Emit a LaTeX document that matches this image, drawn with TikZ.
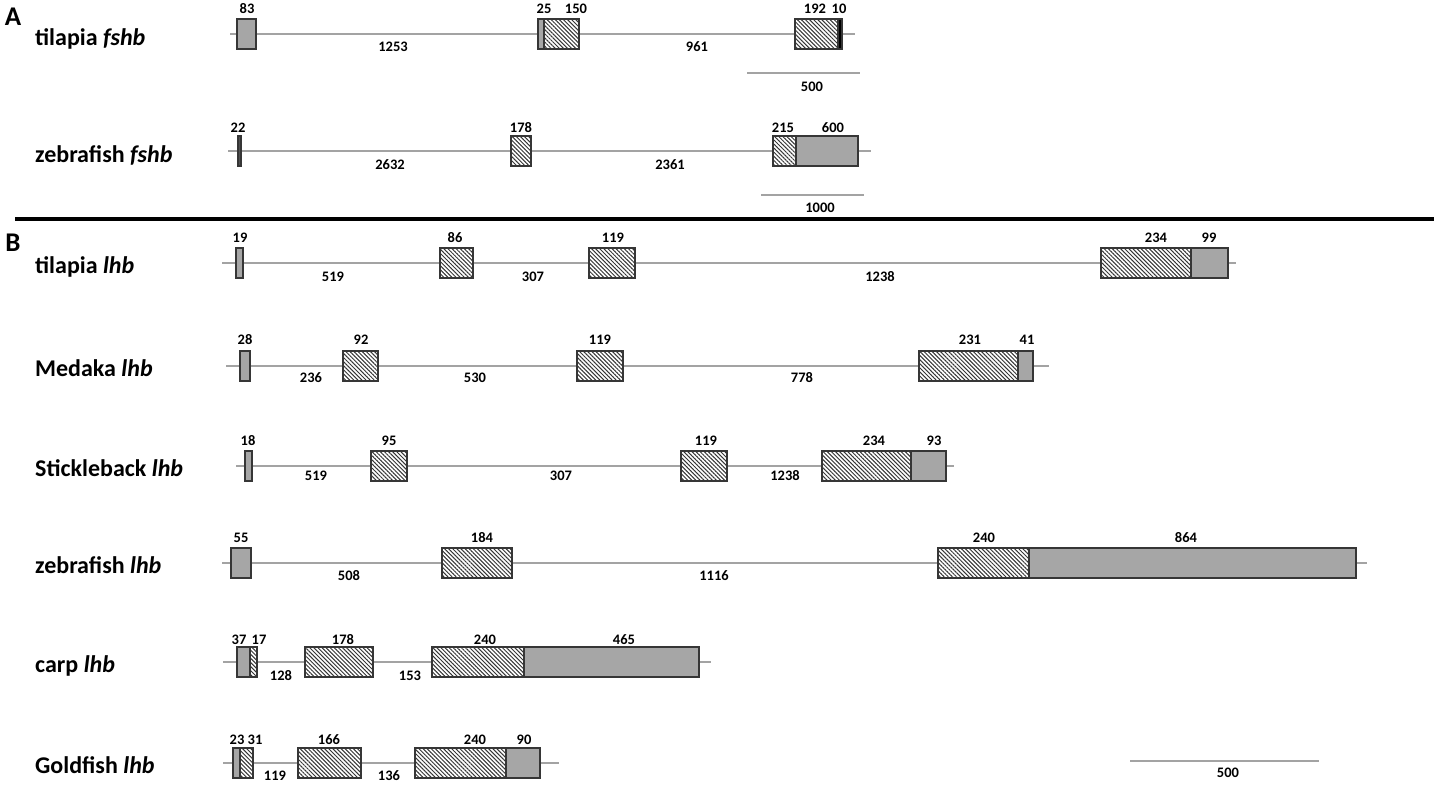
\documentclass[tikz,border=0pt]{standalone}
\usepackage{fontspec}
\setmainfont{Carlito}
\usepackage{tikz}
\usetikzlibrary{patterns.meta}

\definecolor{exongray}{HTML}{A6A6A6}
\definecolor{edgegray}{HTML}{363636}
\definecolor{introngray}{HTML}{A3A3A3}
\definecolor{darkbar}{HTML}{505050}

\tikzset{
    intron/.style={draw=introngray, line width=1.5pt},
    utr/.style={draw=edgegray, fill=exongray, line width=1.2pt},
    cds/.style={draw=edgegray, line width=1.2pt, preaction={fill=white},
        pattern={Lines[angle=-45,distance=2.9pt,line width=1pt]}, pattern color=edgegray},
    num/.style={font=\fontsize{14.5}{17}\selectfont\bfseries, inner sep=0pt},
    gene/.style={font=\fontsize{24}{28}\selectfont\bfseries, anchor=base west, inner sep=0pt},
    panel/.style={font=\fontsize{27}{30}\selectfont\bfseries, inner sep=0pt}
}

\begin{document}
\begin{tikzpicture}[x=1pt,y=-1pt]
    \useasboundingbox (0,0) rectangle (1439,785);

    \node[panel] (pA) at (13,17) {A};
    \node[panel] (pB) at (13,243) {B};
    \draw[line width=4pt] (15,219) -- (1434,219);

    % tilapia fshb
    \begin{scope}[shift={(0,34)}]
        \node[gene] (tfshb) at (35,11) {tilapia \textit{fshb}};
        \draw[intron] (230,0) -- (855,0);
        \foreach \a/\b in {237/256,538/544} \draw[utr] (\a,-15) rectangle (\b,15);
        \foreach \a/\b in {544/579,795/838} \draw[cds] (\a,-15) rectangle (\b,15);
        \draw[utr, fill=black] (838,-15) rectangle (842,15);
        \foreach \x/\t [count=\i] in {247/83,544/25,576/150,815/192,839/10}
            \node[num] (tfshb-e\i) at (\x,-25) {\t};
        \foreach \x/\t [count=\i] in {393/1253,697/961}
            \node[num] (tfshb-i\i) at (\x,13) {\t};
    \end{scope}
    \draw[intron] (747,73) -- (860,73);
    \node[num] (bar1) at (812,87) {500};

    % zebrafish fshb
    \begin{scope}[shift={(0,151)}]
        \node[gene] (zfshb) at (35,11) {zebrafish \textit{fshb}};
        \draw[intron] (228,0) -- (871,0);
        \draw[utr, fill=darkbar] (238,-15) rectangle (241,15);
        \foreach \a/\b in {511/531,773/796} \draw[cds] (\a,-15) rectangle (\b,15);
        \draw[utr] (796,-15) rectangle (858,15);
        \foreach \x/\t [count=\i] in {238/22,521/178,783/215,833/600}
            \node[num] (zfshb-e\i) at (\x,-23) {\t};
        \foreach \x/\t [count=\i] in {390/2632,670/2361}
            \node[num] (zfshb-i\i) at (\x,14) {\t};
    \end{scope}
    \draw[intron] (761,195) -- (864,195);
    \node[num] (bar2) at (820,208) {1000};

    % tilapia lhb
    \begin{scope}[shift={(0,263)}]
        \node[gene] (tlhb) at (35,10) {tilapia \textit{lhb}};
        \draw[intron] (222,0) -- (1236,0);
        \foreach \a/\b in {236/243,1191/1228} \draw[utr] (\a,-15) rectangle (\b,15);
        \foreach \a/\b in {440/473,589/635,1101/1191} \draw[cds] (\a,-15) rectangle (\b,15);
        \foreach \x/\t [count=\i] in {240/19,455/86,613/119,1156/234,1209/99}
            \node[num] (tlhb-e\i) at (\x,-25) {\t};
        \foreach \x/\t [count=\i] in {333/519,533/307,880/1238}
            \node[num] (tlhb-i\i) at (\x,14) {\t};
    \end{scope}

    % medaka lhb
    \begin{scope}[shift={(0,366)}]
        \node[gene] (mlhb) at (35,10) {Medaka \textit{lhb}};
        \draw[intron] (226,0) -- (1049,0);
        \foreach \a/\b in {240/250,1018/1033} \draw[utr] (\a,-15) rectangle (\b,15);
        \foreach \a/\b in {343/378,577/623,919/1018} \draw[cds] (\a,-15) rectangle (\b,15);
        \foreach \x/\t [count=\i] in {245/28,361/92,600/119,970/231,1027/41}
            \node[num] (mlhb-e\i) at (\x,-26) {\t};
        \foreach \x/\t [count=\i] in {311/236,475/530,802/778}
            \node[num] (mlhb-i\i) at (\x,12) {\t};
    \end{scope}

    % stickleback lhb
    \begin{scope}[shift={(0,466)}]
        \node[gene] (slhb) at (35,10) {Stickleback \textit{lhb}};
        \draw[intron] (236,0) -- (954,0);
        \foreach \a/\b in {245/252,911/946} \draw[utr] (\a,-15) rectangle (\b,15);
        \foreach \a/\b in {371/407,681/727,822/911} \draw[cds] (\a,-15) rectangle (\b,15);
        \foreach \x/\t [count=\i] in {248/18,389/95,706/119,874/234,934/93}
            \node[num] (slhb-e\i) at (\x,-25) {\t};
        \foreach \x/\t [count=\i] in {316/519,561/307,785/1238}
            \node[num] (slhb-i\i) at (\x,10) {\t};
    \end{scope}

    % zebrafish lhb
    \begin{scope}[shift={(0,563)}]
        \node[gene] (zlhb) at (35,10) {zebrafish \textit{lhb}};
        \draw[intron] (222,0) -- (1367,0);
        \foreach \a/\b in {231/251,1029/1356} \draw[utr] (\a,-15) rectangle (\b,15);
        \foreach \a/\b in {442/512,938/1029} \draw[cds] (\a,-15) rectangle (\b,15);
        \foreach \x/\t [count=\i] in {241/55,482/184,984/240,1186/864}
            \node[num] (zlhb-e\i) at (\x,-25) {\t};
        \foreach \x/\t [count=\i] in {349/508,714/1116}
            \node[num] (zlhb-i\i) at (\x,13) {\t};
    \end{scope}

    % carp lhb
    \begin{scope}[shift={(0,662)}]
        \node[gene] (clhb) at (35,10) {carp \textit{lhb}};
        \draw[intron] (223,0) -- (711,0);
        \foreach \a/\b in {237/250,524/699} \draw[utr] (\a,-15) rectangle (\b,15);
        \foreach \a/\b in {250/257,305/373,432/524} \draw[cds] (\a,-15) rectangle (\b,15);
        \foreach \x/\t [count=\i] in {239/37,259/17,343/178,485/240,624/465}
            \node[num] (clhb-e\i) at (\x,-22) {\t};
        \foreach \x/\t [count=\i] in {281/128,410/153}
            \node[num] (clhb-i\i) at (\x,14) {\t};
    \end{scope}

    % goldfish lhb
    \begin{scope}[shift={(0,763)}]
        \node[gene] (glhb) at (35,10) {Goldfish \textit{lhb}};
        \draw[intron] (223,0) -- (559,0);
        \foreach \a/\b in {233/240,506/540} \draw[utr] (\a,-15) rectangle (\b,15);
        \foreach \a/\b in {240/253,298/361,415/506} \draw[cds] (\a,-15) rectangle (\b,15);
        \foreach \x/\t [count=\i] in {237/23,255/31,329/166,475/240,524/90}
            \node[num] (glhb-e\i) at (\x,-23) {\t};
        \foreach \x/\t [count=\i] in {275/119,389/136}
            \node[num] (glhb-i\i) at (\x,13) {\t};
    \end{scope}
    \draw[intron] (1130,761) -- (1319,761);
    \node[num] (bar3) at (1228,773) {500};
\end{tikzpicture}
\end{document}
